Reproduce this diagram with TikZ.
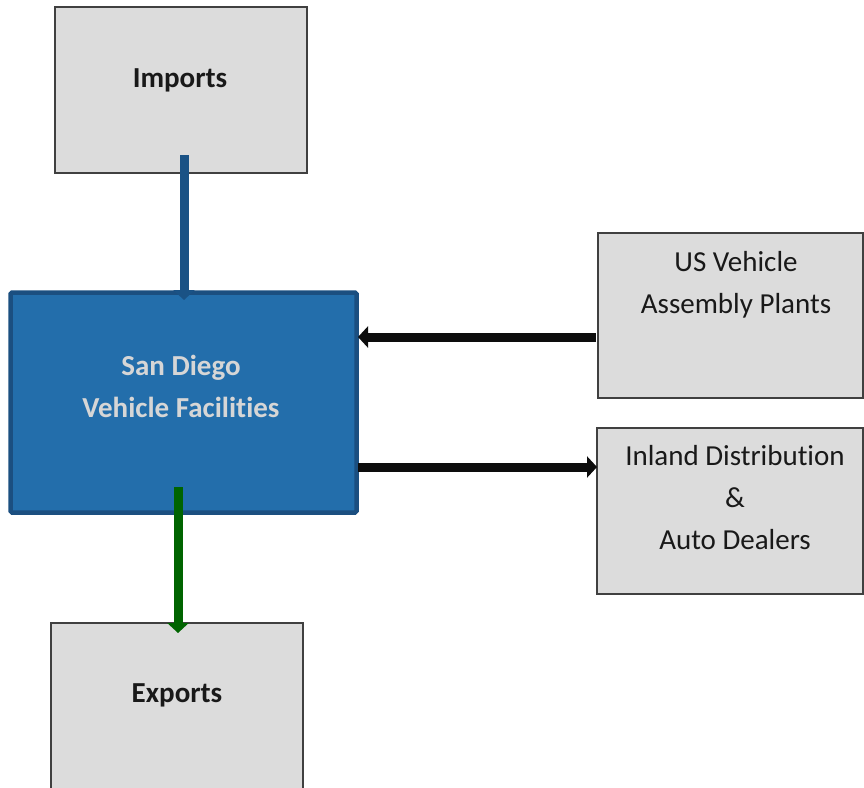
\documentclass[tikz,border=0pt]{standalone}
\usepackage{fontspec}
\setmainfont{Carlito}[RawFeature={-liga;-clig}]
\usetikzlibrary{arrows.meta}
\definecolor{boxgray}{HTML}{DCDCDC}
\definecolor{boxedge}{HTML}{404040}
\definecolor{sdblue}{HTML}{236EAB}
\definecolor{sdedge}{HTML}{1B4F80}
\definecolor{arrblue}{HTML}{1A5285}
\definecolor{arrgreen}{HTML}{006400}
\definecolor{arrblack}{HTML}{0D0D0D}
\definecolor{sdtext}{HTML}{D6D6D6}
\tikzset{
  graybox/.style={draw=boxedge, line width=1.5pt, fill=boxgray, inner sep=0pt, outer sep=0pt},
  bluebox/.style={draw=sdedge, line width=4.5pt, fill=sdblue, rounded corners=1.5pt, inner sep=0pt, outer sep=0pt},
  lbl/.style={font=\fontsize{29}{42}\selectfont, align=center, inner sep=0pt, text=black!90},
  flow/.style={line width=9pt, -{Triangle[width=21pt,length=10pt]}},
}
\begin{document}
\begin{tikzpicture}[x=1pt,y=-1pt]
\clip (0,0) rectangle (864,787);
\fill[white] (0,0) rectangle (864,787);
% boxes
\node[graybox, minimum width=252pt, minimum height=166pt] (imp) at (181,90) {};
\node[graybox, minimum width=265pt, minimum height=165pt] (us) at (730.5,315.5) {};
\node[graybox, minimum width=266pt, minimum height=166pt] (inl) at (730,511) {};
\node[graybox, minimum width=252pt, minimum height=200pt] (exp) at (177,723) {};
\node[bluebox, minimum width=346pt, minimum height=220pt] (sd) at (183.5,402.5) {};
% labels
\node[lbl, anchor=base, font=\fontsize{29}{42}\selectfont\bfseries] (timp) at (180,87) {Imports};
\node[lbl, anchor=base, font=\fontsize{29}{42}\selectfont\bfseries] (texp) at (177,702) {Exports};
\node[lbl] (tus) at (736,285) {US Vehicle\\Assembly Plants};
\node[lbl, font=\fontsize{29}{42}\selectfont] (tinl) at (735,498) {Inland Distribution\\\&\\Auto Dealers};
\node[lbl, text=sdtext, font=\fontsize{29}{42}\selectfont\bfseries] (tsd) at (181,386) {San Diego\\Vehicle Facilities};
% anchor points
\coordinate (impS) at (184,155);
\coordinate (sdN) at (184,300);
\coordinate (sdS) at (178,487);
\coordinate (expN) at (178,633);
\coordinate (usW) at (596,337);
\coordinate (sdE1) at (358,337);
\coordinate (sdE2) at (358,467);
\coordinate (inlW) at (597,467);
% connectors
\draw[flow, arrblue] (impS) -- (sdN);
\draw[flow, arrgreen] (sdS) -- (expN);
\draw[flow, arrblack] (usW) -- (sdE1);
\draw[flow, arrblack] (sdE2) -- (inlW);
\end{tikzpicture}
\end{document}
